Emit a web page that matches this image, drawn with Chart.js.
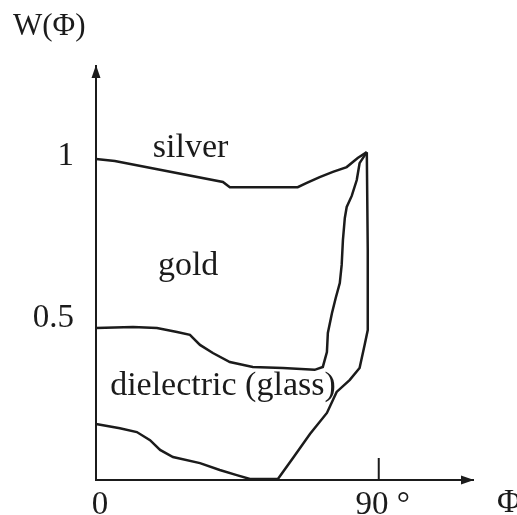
<!DOCTYPE html>
<html>
<head>
<meta charset="utf-8">
<script src="https://cdn.jsdelivr.net/npm/chart.js@4.4.1/dist/chart.umd.min.js"></script>
<style>
  html, body { margin: 0; padding: 0; background: #fff; }
  #wrap { width: 517px; height: 515px; position: relative; }
</style>
</head>
<body>
<div id="wrap"><canvas id="chart"></canvas></div>
<script>
// W(Φ) curves, Φ in degrees
const silverPhi = [0, 6.0, 40.4, 42.6, 64.2, 67.1, 71.2, 75.4, 79.8, 83.3, 86.2];
const silverW   = [0.991, 0.985, 0.920, 0.904, 0.904, 0.917, 0.935, 0.951, 0.966, 0.994, 1.012];

const goldPhi = [0, 11.8, 19.4, 25.8, 29.9, 33.1, 37.2, 42.6, 49.9, 59.5, 69.6, 72.2,
                 73.5, 73.8, 75.1, 76.3, 77.6, 78.2, 78.6, 79.2, 79.8, 81.4, 83.0, 83.9, 86.2];
const goldW   = [0.469, 0.472, 0.469, 0.457, 0.448, 0.417, 0.392, 0.364, 0.349, 0.346, 0.340, 0.349,
                 0.395, 0.454, 0.515, 0.562, 0.608, 0.664, 0.741, 0.809, 0.843, 0.877, 0.926, 0.978, 1.012];

const glassPhi = [0, 7.6, 13.0, 17.2, 20.4, 24.5, 33.1, 39.4, 44.8, 49.0, 57.9, 62.7,
                  68.1, 73.5, 76.6, 80.8, 83.9, 85.5, 86.5, 86.5, 86.2];
const glassW   = [0.173, 0.160, 0.148, 0.123, 0.093, 0.071, 0.052, 0.031, 0.015, 0.003, 0.003, 0.068,
                  0.142, 0.207, 0.272, 0.309, 0.346, 0.417, 0.463, 0.710, 1.012];

const xTicks = [0, 90];
const xTickLabels = ["0", "90 °"];
const yTicks = [0.5, 1];
const yTickLabels = ["0.5", "1"];

// curve names and where they sit (Φ, W at text baseline)
const curveNames = ["silver", "gold", "dielectric (glass)"];
const namePhi = [18.1, 19.7, 4.5];
const nameW   = [0.997, 0.633, 0.262];

const INK = "#1b1b1b";
const FONT = "'Liberation Serif', 'Times New Roman', serif";

const pts = (xs, ys) => xs.map((x, i) => ({ x, y: ys[i] }));

const curve = (data) => ({
  data, showLine: true, borderColor: INK, borderWidth: 2.5,
  pointRadius: 0, pointHoverRadius: 0, tension: 0, fill: false, clip: false,
});

// arrows, the inner 90° tick, curve names and axis captions
const decorations = {
  id: "decorations",
  afterDraw(chart) {
    const { ctx, chartArea: a, scales: { x, y } } = chart;
    ctx.save();
    ctx.fillStyle = INK;
    ctx.strokeStyle = INK;

    // arrow heads
    ctx.beginPath();
    ctx.moveTo(a.left, a.top - 1);
    ctx.lineTo(a.left - 4.5, a.top + 12);
    ctx.lineTo(a.left + 4.5, a.top + 12);
    ctx.closePath();
    ctx.fill();
    ctx.beginPath();
    ctx.moveTo(a.right + 1, a.bottom);
    ctx.lineTo(a.right - 12, a.bottom - 4.5);
    ctx.lineTo(a.right - 12, a.bottom + 4.5);
    ctx.closePath();
    ctx.fill();

    // 90° tick drawn inward
    const tx = x.getPixelForValue(90);
    ctx.lineWidth = 2;
    ctx.beginPath();
    ctx.moveTo(tx, a.bottom);
    ctx.lineTo(tx, a.bottom - 22);
    ctx.stroke();

    ctx.font = "34px " + FONT;
    ctx.textBaseline = "alphabetic";
    ctx.textAlign = "left";
    curveNames.forEach((name, i) => {
      ctx.fillText(name, x.getPixelForValue(namePhi[i]), y.getPixelForValue(nameW[i]));
    });

    ctx.textBaseline = "middle";
    ctx.font = "31px " + FONT;
    ctx.fillText("W(\u03A6)", 13, 27);
    ctx.font = "33px " + FONT;
    ctx.fillText("\u03A6", 497, 503);
    ctx.restore();
  },
};

new Chart(document.getElementById("chart"), {
  type: "scatter",
  data: {
    datasets: [
      curve(pts(silverPhi, silverW)),
      curve(pts(goldPhi, goldW)),
      curve(pts(glassPhi, glassW)),
    ],
  },
  options: {
    responsive: true,
    maintainAspectRatio: false,
    animation: false,
    events: [],
    layout: { autoPadding: false, padding: { left: 0, top: 66, right: 44, bottom: 0 } },
    plugins: { legend: { display: false }, tooltip: { enabled: false } },
    scales: {
      x: {
        type: "linear", min: 0, max: 120,
        grid: { display: false, drawTicks: false },
        border: { display: true, color: INK, width: 2 },
        afterBuildTicks: (s) => { s.ticks = xTicks.map(v => ({ value: v })); },
        afterFit: (s) => { s.height = 35; s.paddingLeft = 0; s.paddingRight = 0; },
        ticks: {
          color: INK, padding: 6, autoSkip: false, maxRotation: 0, labelOffset: 4,
          font: { family: FONT, size: 33 },
          callback: (v) => xTickLabels[xTicks.indexOf(v)],
        },
      },
      y: {
        type: "linear", min: 0, max: 1.278,
        grid: { display: false, drawTicks: false },
        border: { display: true, color: INK, width: 2 },
        afterBuildTicks: (s) => { s.ticks = yTicks.map(v => ({ value: v })); },
        // keep the label half-heights from pushing the plot area around
        afterFit: (s) => { s.width = 96; s.paddingTop = 0; s.paddingBottom = 0; },
        ticks: {
          color: INK, padding: 22, autoSkip: false,
          font: { family: FONT, size: 33 },
          callback: (v) => yTickLabels[yTicks.indexOf(v)],
        },
      },
    },
  },
  plugins: [decorations],
});
</script>
</body>
</html>
